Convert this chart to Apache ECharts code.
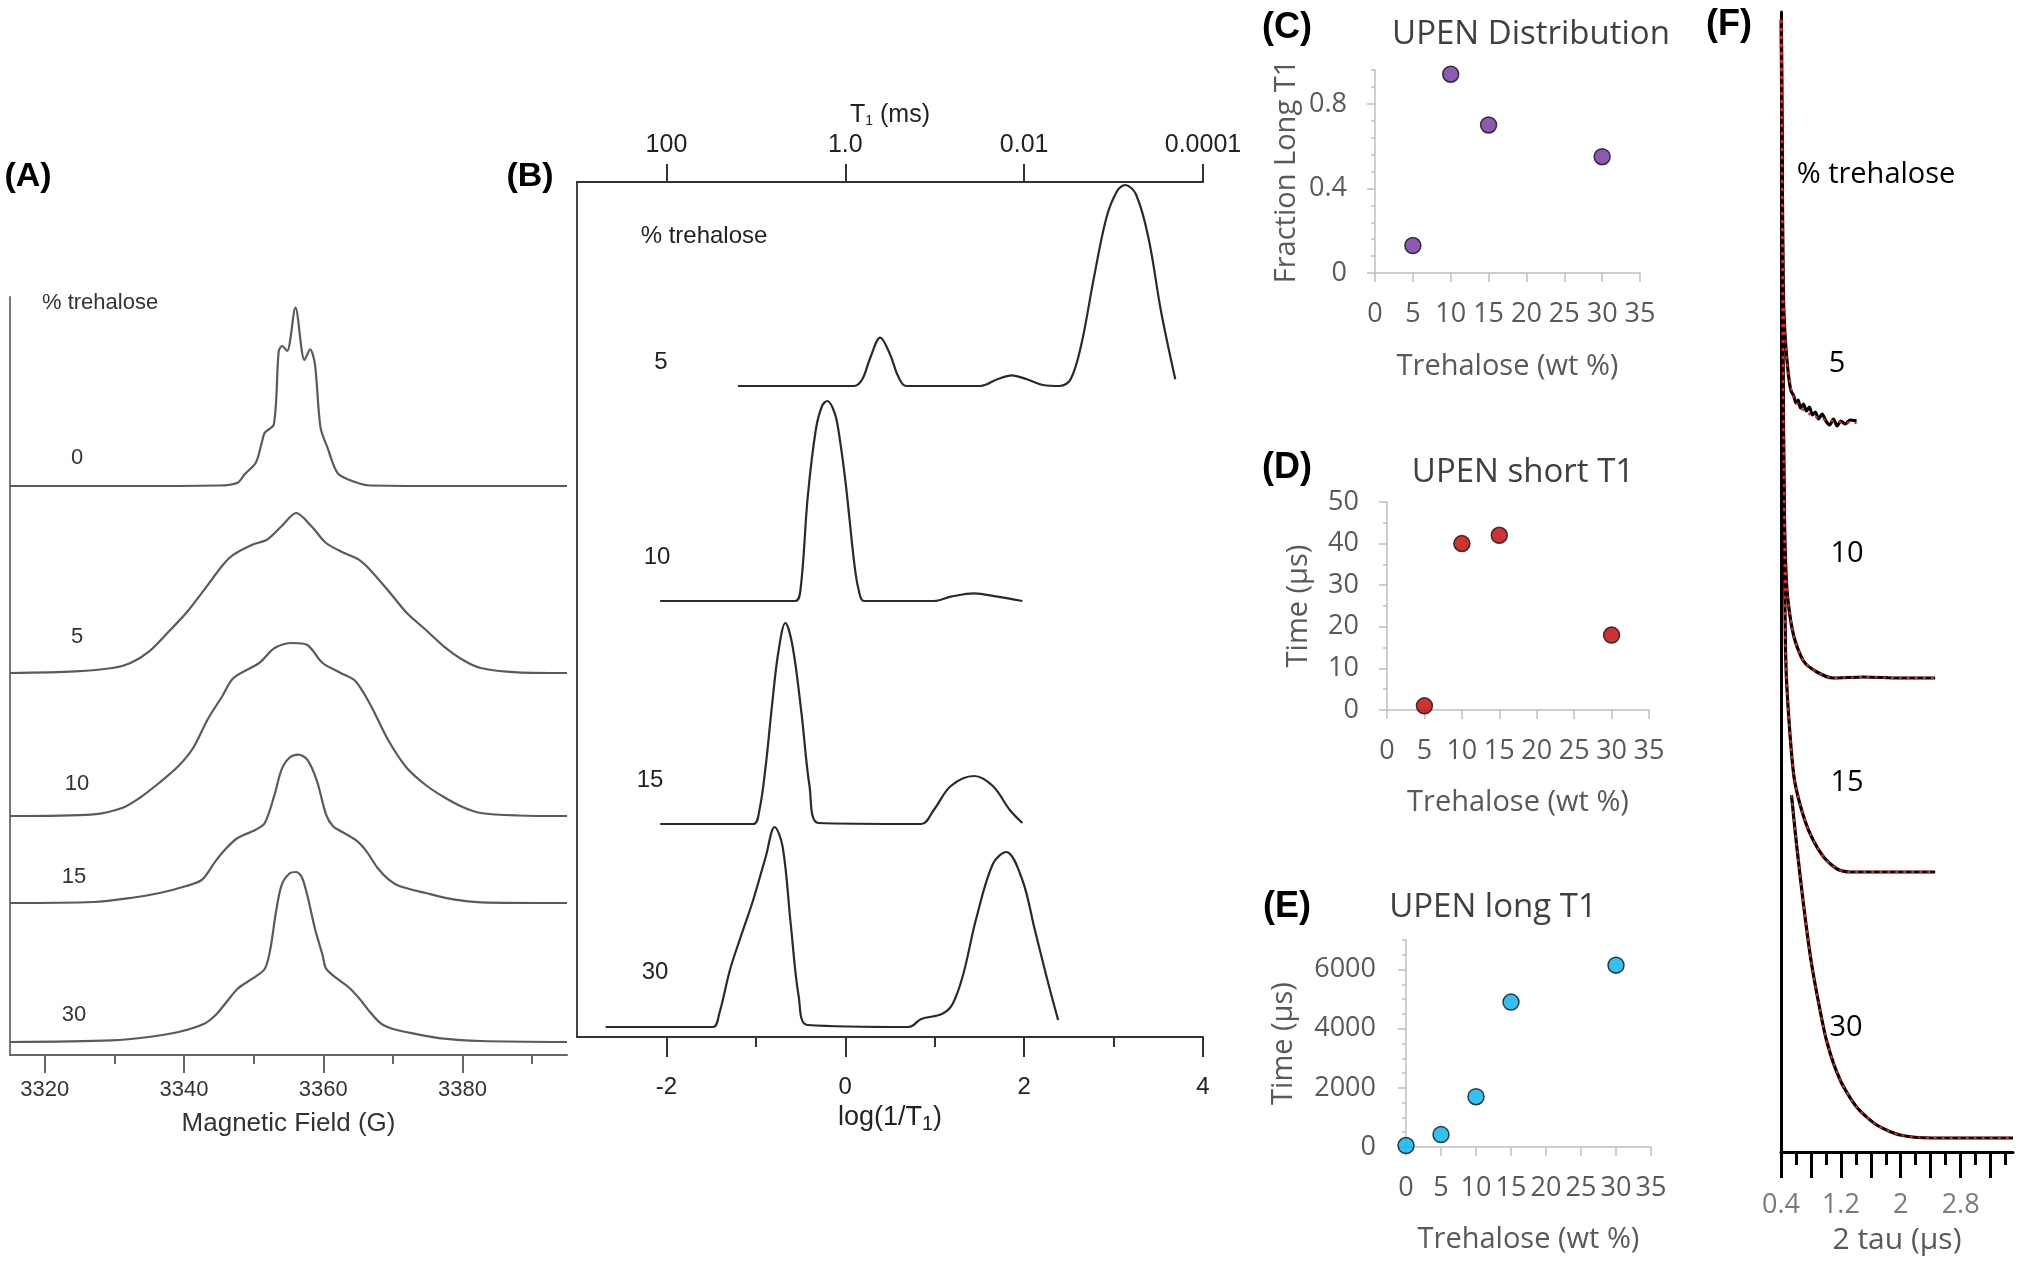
<!DOCTYPE html>
<html>
<head>
<meta charset="utf-8">
<title>EPR / UPEN trehalose</title>
<script src="https://cdn.jsdelivr.net/npm/echarts@6.0.0/dist/echarts.min.js"></script>
<style>
html,body{margin:0;padding:0;background:#ffffff;}
#chart{width:2022px;height:1263px;}
</style>
</head>
<body>
<div id="chart"></div>
<script>
// ---------------- Panel A: EPR spectra [field (G), intensity] ----------------
const fieldTickValues = [3320, 3330, 3340, 3350, 3360, 3370, 3380, 3390];
const fieldLabelValues = [3320, 3340, 3360, 3380];
const eprTrehalose = ['0', '5', '10', '15', '30'];
const epr0 = [[3315.0,0],[3330.0,0],[3345.0,0.5],[3347.7,3.3],[3348.7,11.7],[3350.3,23.3],[3351.1,41.7],[3351.6,53.3],[3352.9,61.7],[3353.6,135],[3354.1,140],[3354.8,135],[3356.0,178.3],[3357.3,126],[3358.1,136.7],[3358.8,121.7],[3359.6,58.3],[3360.6,38.3],[3362.0,13.3],[3363.5,6.7],[3366.7,0.5],[3380.0,0],[3395.0,0]];
const epr5 = [[3315.0,0],[3324.4,1.7],[3329.7,5],[3332.3,10],[3335.0,21.7],[3337.6,40],[3340.3,60],[3342.9,83.3],[3345.6,108.3],[3347.1,118.3],[3349.8,128.3],[3351.9,133.3],[3354.0,146.7],[3356.1,160],[3358.3,146.7],[3360.4,130],[3363.0,120],[3365.1,113.3],[3366.7,103.3],[3369.4,81.7],[3372.0,60],[3374.7,43.3],[3377.3,26.7],[3380.0,13.3],[3382.6,5],[3387.9,0.7],[3395.0,0]];
const epr10 = [[3315.0,0],[3327.0,1.7],[3331.2,8.3],[3333.6,18],[3336.4,33],[3339.2,50],[3341.3,68],[3343.4,96.7],[3345.5,120],[3347.1,138],[3350.8,153],[3353.0,168],[3355.6,173],[3357.7,171],[3359.9,153],[3362.5,143],[3364.6,135],[3366.7,112],[3369.4,75],[3372.0,48],[3374.7,31],[3377.3,19],[3380.0,9],[3382.6,3],[3387.9,0.5],[3395.0,0]];
const epr15 = [[3315.0,0],[3327.0,1],[3332.3,5],[3336.5,10],[3340.2,16.7],[3342.6,23.3],[3344.5,41.7],[3346.1,55],[3347.7,65],[3350.3,73.3],[3351.6,80],[3353.0,108.3],[3354.0,133.3],[3355.1,145],[3356.4,148.3],[3357.7,143.3],[3359.1,121.7],[3360.4,88.3],[3361.4,76.7],[3363.0,70],[3364.9,61.7],[3366.2,51.7],[3367.8,35],[3369.4,23.3],[3371.0,16.7],[3374.7,10],[3378.9,3.3],[3382.6,0.7],[3395.0,0]];
const epr30 = [[3315.0,0],[3329.6,1.7],[3334.9,5],[3339.2,10],[3342.9,18.3],[3344.5,26.7],[3346.1,40],[3347.7,53.3],[3349.8,63.3],[3351.6,73.3],[3352.4,93.3],[3353.2,130],[3354.0,156.7],[3355.1,168.3],[3356.1,170],[3356.9,165],[3357.7,146.7],[3358.8,113.3],[3359.9,86.7],[3360.4,73.3],[3362.0,63.3],[3363.6,55],[3365.2,43.3],[3366.7,30],[3368.3,18.3],[3369.9,13.3],[3373.1,8.3],[3377.3,3.3],[3382.6,1],[3395.0,0]];
const eprSeries = [epr0, epr5, epr10, epr15, epr30];
const eprStackOffset = [569, 382, 239, 152, 13];   // vertical stacking of the traces

// ---------------- Panel B: UPEN distributions [log(1/T1), amplitude] ----------------
const logMinorTicks = [-1, 1, 3];
const logLabelValues = [-2, 0, 2, 4];
const t1TopLabels = ['100', '1.0', '0.01', '0.0001'];
const upen5 = [[-1.20,0],[0.10,0],[0.19,6.7],[0.28,28.3],[0.39,48.3],[0.50,31.7],[0.59,10],[0.68,0],[1.51,0],[1.70,6.7],[1.86,10.7],[2.03,6.7],[2.21,1],[2.40,0],[2.52,6.7],[2.64,41.7],[2.78,108.3],[2.92,168.3],[3.04,195],[3.13,201],[3.25,191.7],[3.39,148.3],[3.53,75],[3.69,6.7]];
const upen10 = [[-2.07,0],[-0.56,0],[-0.50,12],[-0.42,104],[-0.33,171],[-0.26,195],[-0.20,200],[-0.14,193],[-0.09,178],[0.00,121],[0.10,38],[0.15,11],[0.21,0],[0.99,0],[1.18,4.3],[1.44,7.7],[1.70,4.3],[1.98,0]];
const upen15 = [[-2.07,0],[-1.03,0],[-0.96,14],[-0.89,58],[-0.82,118],[-0.75,171],[-0.67,201],[-0.59,178],[-0.49,111],[-0.40,38],[-0.30,1],[0.85,0],[0.99,14],[1.18,38],[1.44,48],[1.65,38],[1.84,14],[1.98,1]];
const upen30 = [[-2.68,0],[-1.48,0],[-1.41,13],[-1.29,57],[-1.17,90],[-1.03,127],[-0.89,170],[-0.79,200],[-0.70,180],[-0.61,103],[-0.52,30],[-0.42,2],[0.71,0],[0.85,8],[1.08,13],[1.20,23],[1.32,53],[1.46,107],[1.65,163],[1.80,175],[1.98,147],[2.12,97],[2.26,47],[2.38,7]];
const upenSeries = [upen5, upen10, upen15, upen30];
const upenStackOffset = [651, 436, 213, 10];

// ---------------- Panels C, D, E: UPEN summary ----------------
const trehaloseC = [5, 10, 15, 30];
const fractionLongT1 = [0.13, 0.94, 0.70, 0.55];
const trehaloseD = [5, 10, 15, 30];
const shortT1us = [1, 40, 42, 18];
const trehaloseE = [0, 5, 10, 15, 30];
const longT1us = [50, 420, 1700, 4900, 6150];

// ---------------- Panel F: inversion-recovery traces [2 tau (us), signal] ----------------
const tauTickMajor = [0.4, 0.8, 1.2, 1.6, 2.0, 2.4, 2.8, 3.2];
const tauTickMinor = [0.6, 1.0, 1.4, 1.8, 2.2, 2.6, 3.0, 3.4];
const tauLabelValues = [0.4, 1.2, 2.0, 2.8];
const trace5 = [[0.405,1132],[0.41,1052],[0.43,868],[0.45,822],[0.49,784],[0.53,762],[0.57,756],[0.60,749],[0.63,752],[0.66,744],[0.70,748],[0.74,741],[0.78,745],[0.82,737],[0.86,740],[0.90,733],[0.95,738],[1.00,731],[1.05,727],[1.10,733],[1.15,726],[1.20,731],[1.26,728],[1.32,732],[1.41,731]];
const fit5 = [[0.405,1132],[0.41,1052],[0.43,868],[0.45,822],[0.49,784],[0.56,756],[0.65,745],[0.80,737],[1.00,732],[1.20,730],[1.41,729]];
const trace10 = [[0.405,1132],[0.41,1000],[0.42,822],[0.44,669],[0.46,593],[0.49,554],[0.57,516],[0.70,491],[0.88,480],[1.10,474],[1.50,475],[2.00,474],[2.46,474]];
const trace15 = [[0.405,1132],[0.42,900],[0.44,650],[0.46,502],[0.49,450],[0.57,377],[0.66,346],[0.79,318],[0.97,295],[1.15,283],[1.32,280],[2.00,280],[2.46,280]];
const trace30 = [[0.54,357],[0.61,306],[0.70,248],[0.79,197],[0.88,158],[1.01,111],[1.19,72],[1.41,45],[1.68,27],[1.99,17],[2.43,14],[3.00,14],[3.50,14]];
const tauTraces = [trace5, trace10, trace15, trace30];
const tauFits = [fit5, trace10, trace15, trace30];

// ---------------------------------------------------------------------------
const ARIAL = '"Liberation Sans", Arial, sans-serif';
const XLF = '"Open Sans", "Noto Sans", sans-serif';
const XL_AXIS = '#bfbfbf';
const XL_TEXT = '#595959';

const chart = echarts.init(document.getElementById('chart'), null, {renderer: 'canvas', width: 2022, height: 1263});

const stack = (arr, off) => arr.map(p => [p[0], p[1] + off]);
const plain = v => String(Math.round(v * 100) / 100);

const series = [];
eprSeries.forEach((d, i) => series.push({
  type: 'line', xAxisIndex: 0, yAxisIndex: 0, data: stack(d, eprStackOffset[i]),
  showSymbol: false, smooth: 0.3, lineStyle: {color: '#5a5a5a', width: 2.2}, silent: true
}));
upenSeries.forEach((d, i) => series.push({
  type: 'line', xAxisIndex: 2, yAxisIndex: 1, data: stack(d, upenStackOffset[i]),
  showSymbol: false, smooth: 0.35, lineStyle: {color: '#2a2a2a', width: 2.2}, silent: true
}));
series.push({type: 'scatter', xAxisIndex: 4, yAxisIndex: 2, symbolSize: 16,
  data: trehaloseC.map((x, i) => [x, fractionLongT1[i]]),
  itemStyle: {color: '#7030A0', borderColor: '#111', borderWidth: 1.5}});
series.push({type: 'scatter', xAxisIndex: 5, yAxisIndex: 4, symbolSize: 16,
  data: trehaloseD.map((x, i) => [x, shortT1us[i]]),
  itemStyle: {color: '#C00000', borderColor: '#111', borderWidth: 1.5}});
series.push({type: 'scatter', xAxisIndex: 6, yAxisIndex: 6, symbolSize: 16,
  data: trehaloseE.map((x, i) => [x, longT1us[i]]),
  itemStyle: {color: '#00B0F0', borderColor: '#111', borderWidth: 1.5}});
tauTraces.forEach(d => series.push({
  type: 'line', xAxisIndex: 7, yAxisIndex: 8, data: d, showSymbol: false, smooth: 0.25,
  lineStyle: {color: '#000', width: 3.2}, silent: true
}));
tauFits.forEach(d => series.push({
  type: 'line', xAxisIndex: 7, yAxisIndex: 8, data: d, showSymbol: false, smooth: 0.25,
  lineStyle: {color: '#ff1a1a', width: 2, type: [3, 5]}, silent: true
}));

const noLabel = {show: false};
const noSplit = {show: false};
const xlX = (gridIndex, nameGap) => ({
  gridIndex: gridIndex, type: 'value', position: 'bottom', min: 0, max: 35, interval: 5,
  axisLine: {onZero: false, lineStyle: {color: XL_AXIS, width: 1.5}},
  axisTick: {length: 9, lineStyle: {color: XL_AXIS, width: 1.5}},
  axisLabel: {margin: 28, fontSize: 27, fontFamily: XLF, color: XL_TEXT},
  splitLine: noSplit,
  name: 'Trehalose (wt %)', nameLocation: 'middle', nameGap: nameGap,
  nameTextStyle: {fontSize: 29, fontFamily: XLF, color: XL_TEXT}
});

const xAxis = [
  // 0 A main
  {gridIndex: 0, type: 'value', position: 'bottom', min: 3315, max: 3395,
   axisLine: {onZero: false, lineStyle: {color: '#666', width: 2}},
   axisTick: {customValues: fieldLabelValues, length: 18, lineStyle: {color: '#666', width: 2}},
   axisLabel: {customValues: fieldLabelValues, margin: 24, fontSize: 22, fontFamily: ARIAL, color: '#333', formatter: plain},
   splitLine: noSplit,
   name: 'Magnetic Field (G)', nameLocation: 'middle', nameGap: 56,
   nameTextStyle: {fontSize: 26, fontFamily: ARIAL, color: '#333'}},
  // 1 A minor ticks
  {gridIndex: 0, type: 'value', position: 'bottom', min: 3315, max: 3395,
   axisLine: {show: false, onZero: false},
   axisTick: {customValues: fieldTickValues.filter(v => fieldLabelValues.indexOf(v) < 0), length: 9, lineStyle: {color: '#666', width: 2}},
   axisLabel: noLabel, splitLine: noSplit},
  // 2 B bottom
  {gridIndex: 1, type: 'value', position: 'bottom', min: -3, max: 4,
   axisLine: {onZero: false, lineStyle: {color: '#333', width: 2}},
   axisTick: {customValues: logLabelValues, length: 20, lineStyle: {color: '#333', width: 2}},
   axisLabel: {customValues: logLabelValues, margin: 38, fontSize: 24, fontFamily: ARIAL, color: '#222', formatter: plain},
   splitLine: noSplit,
   name: 'log(1/T{s|1})', nameLocation: 'middle', nameGap: 60,
   nameTextStyle: {fontSize: 27, fontFamily: ARIAL, color: '#222', rich: {s: {fontSize: 20, fontFamily: ARIAL, color: '#222', verticalAlign: 'bottom', padding: [14, 0, 0, 0]}}}},
  // 3 B top
  {gridIndex: 1, type: 'value', position: 'top', min: -3, max: 4,
   axisLine: {onZero: false, lineStyle: {color: '#333', width: 2}},
   axisTick: {customValues: logLabelValues, length: 18, lineStyle: {color: '#333', width: 2}},
   axisLabel: {customValues: logLabelValues, margin: 24, fontSize: 25, fontFamily: ARIAL, color: '#222',
     formatter: v => t1TopLabels[logLabelValues.indexOf(v)]},
   splitLine: noSplit,
   name: 'T{s|1} (ms)', nameLocation: 'middle', nameGap: 50,
   nameTextStyle: {fontSize: 25, fontFamily: ARIAL, color: '#222', rich: {s: {fontSize: 14, fontFamily: ARIAL, color: '#222', padding: [12, 0, 0, 0]}}}},
  // 4 C, 5 D, 6 E
  xlX(2, 79), xlX(3, 78), xlX(4, 78),
  // 7 F main
  {gridIndex: 5, type: 'value', position: 'bottom', min: 0.4, max: 3.5,
   axisLine: {onZero: false, lineStyle: {color: '#000', width: 3}},
   axisTick: {customValues: tauTickMajor, length: 26, lineStyle: {color: '#000', width: 3}},
   axisLabel: {customValues: tauLabelValues, margin: 40, fontSize: 27, fontFamily: XLF, color: '#7a7a7a', formatter: plain},
   splitLine: noSplit,
   name: '2 tau (\u00b5s)', nameLocation: 'middle', nameGap: 73,
   nameTextStyle: {fontSize: 30, fontFamily: XLF, color: XL_TEXT}},
  // 8 F minor
  {gridIndex: 5, type: 'value', position: 'bottom', min: 0.4, max: 3.5,
   axisLine: {show: false, onZero: false},
   axisTick: {customValues: tauTickMinor, length: 13, lineStyle: {color: '#000', width: 3}},
   axisLabel: noLabel, splitLine: noSplit},
  // 9 B minor ticks
  {gridIndex: 1, type: 'value', position: 'bottom', min: -3, max: 4,
   axisLine: {show: false, onZero: false},
   axisTick: {customValues: logMinorTicks, length: 10, lineStyle: {color: '#333', width: 2}},
   axisLabel: noLabel, splitLine: noSplit}
];

const xlYMinor = (gridIndex, max, interval) => ({
  gridIndex: gridIndex, type: 'value', min: 0, max: max, interval: interval, position: 'left',
  axisLine: {show: false, onZero: false}, axisTick: {show: true, length: 4, lineStyle: {color: XL_AXIS, width: 1.5}},
  axisLabel: noLabel, splitLine: noSplit
});

const yAxis = [
  // 0 A
  {gridIndex: 0, type: 'value', min: 0, max: 758, axisLine: {show: true, onZero: false, lineStyle: {color: '#777', width: 2}},
   axisTick: {show: false}, axisLabel: noLabel, splitLine: noSplit},
  // 1 B
  {gridIndex: 1, type: 'value', min: 0, max: 855, axisLine: {show: true, onZero: false, lineStyle: {color: '#444', width: 2}},
   axisTick: {show: false}, axisLabel: noLabel, splitLine: noSplit},
  // 2 C main
  {gridIndex: 2, type: 'value', min: 0, max: 0.96, position: 'left',
   axisLine: {show: true, onZero: false, lineStyle: {color: XL_AXIS, width: 1.5}},
   axisTick: {show: true, customValues: [0, 0.4, 0.8], length: 8, lineStyle: {color: XL_AXIS, width: 1.5}},
   axisLabel: {customValues: [0, 0.4, 0.8], margin: 28, fontSize: 27, fontFamily: XLF, color: XL_TEXT, formatter: plain},
   splitLine: noSplit,
   name: 'Fraction Long T1', nameLocation: 'middle', nameGap: 74,
   nameTextStyle: {fontSize: 29, fontFamily: XLF, color: XL_TEXT}},
  // 3 C minor
  xlYMinor(2, 0.96, 0.08),
  // 4 D main
  {gridIndex: 3, type: 'value', min: 0, max: 50, interval: 10, position: 'left',
   axisLine: {show: true, onZero: false, lineStyle: {color: XL_AXIS, width: 1.5}},
   axisTick: {show: true, length: 8, lineStyle: {color: XL_AXIS, width: 1.5}},
   axisLabel: {margin: 28, fontSize: 27, fontFamily: XLF, color: XL_TEXT, formatter: plain},
   splitLine: noSplit,
   name: 'Time (\u00b5s)', nameLocation: 'middle', nameGap: 74,
   nameTextStyle: {fontSize: 29, fontFamily: XLF, color: XL_TEXT}},
  // 5 D minor
  xlYMinor(3, 50, 5),
  // 6 E main
  {gridIndex: 4, type: 'value', min: 0, max: 7000, position: 'left',
   axisLine: {show: true, onZero: false, lineStyle: {color: XL_AXIS, width: 1.5}},
   axisTick: {show: true, customValues: [0, 2000, 4000, 6000], length: 8, lineStyle: {color: XL_AXIS, width: 1.5}},
   axisLabel: {customValues: [0, 2000, 4000, 6000], margin: 30, fontSize: 27, fontFamily: XLF, color: XL_TEXT, formatter: plain},
   splitLine: noSplit,
   name: 'Time (\u00b5s)', nameLocation: 'middle', nameGap: 108,
   nameTextStyle: {fontSize: 29, fontFamily: XLF, color: XL_TEXT}},
  // 7 E minor
  xlYMinor(4, 7000, 500),
  // 8 F
  {gridIndex: 5, type: 'value', min: 0, max: 1140, axisLine: {show: true, onZero: false, lineStyle: {color: '#000', width: 3}},
   axisTick: {show: false}, axisLabel: noLabel, splitLine: noSplit}
];

const grid = [
  {left: 10, top: 297, width: 557, height: 758},
  {left: 577, top: 182, width: 626, height: 855},
  {left: 1375, top: 70, width: 265, height: 203},
  {left: 1387, top: 502, width: 262, height: 208},
  {left: 1406, top: 940, width: 245, height: 207},
  {left: 1781, top: 12, width: 232, height: 1140}
];

const txt = (text, x, y, font, fill, align) => ({
  type: 'text', x: x, y: y, silent: true,
  style: {text: text, font: font, fill: fill || '#000', align: align || 'center', verticalAlign: 'middle'}
});
const graphic = [
  txt('(A)', 28, 177, 'bold 34px ' + ARIAL),
  txt('(B)', 530, 177, 'bold 34px ' + ARIAL),
  txt('(C)', 1287, 28, 'bold 36px ' + ARIAL),
  txt('(D)', 1287, 468, 'bold 36px ' + ARIAL),
  txt('(E)', 1287, 907, 'bold 36px ' + ARIAL),
  txt('(F)', 1729, 25, 'bold 36px ' + ARIAL),
  // panel A labels
  txt('% trehalose', 42, 303, '22px ' + ARIAL, '#333', 'left'),
  txt(eprTrehalose[0], 77, 458, '22px ' + ARIAL, '#333'),
  txt(eprTrehalose[1], 77, 637, '22px ' + ARIAL, '#333'),
  txt(eprTrehalose[2], 77, 784, '22px ' + ARIAL, '#333'),
  txt(eprTrehalose[3], 74, 877, '22px ' + ARIAL, '#333'),
  txt(eprTrehalose[4], 74, 1015, '22px ' + ARIAL, '#333'),
  // panel B labels
  txt('% trehalose', 704, 236, '24px ' + ARIAL, '#222'),
  txt('5', 661, 362, '24px ' + ARIAL, '#222'),
  txt('10', 657, 557, '24px ' + ARIAL, '#222'),
  txt('15', 650, 780, '24px ' + ARIAL, '#222'),
  txt('30', 655, 972, '24px ' + ARIAL, '#222'),
  // panel C-E titles
  txt('UPEN Distribution', 1531, 35, '33px ' + XLF, '#404040'),
  txt('UPEN short T1', 1523, 473, '33px ' + XLF, '#404040'),
  txt('UPEN long T1', 1493, 908, '33px ' + XLF, '#404040'),
  // panel F labels
  txt('% trehalose', 1876, 175, '29px ' + XLF, '#000'),
  txt('5', 1837, 364, '29px ' + XLF, '#000'),
  txt('10', 1847, 554, '29px ' + XLF, '#000'),
  txt('15', 1847, 783, '29px ' + XLF, '#000'),
  txt('30', 1846, 1028, '29px ' + XLF, '#000')
];

chart.setOption({
  backgroundColor: '#ffffff',
  animation: false,
  grid: grid,
  xAxis: xAxis,
  yAxis: yAxis,
  series: series,
  graphic: graphic
});
</script>
</body>
</html>
